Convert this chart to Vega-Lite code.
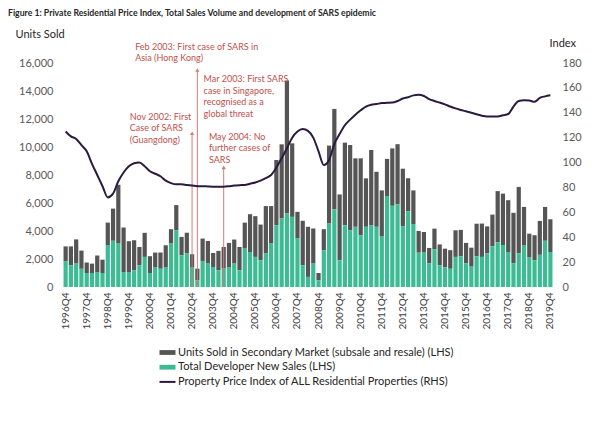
{
  "$schema": "https://vega.github.io/schema/vega-lite/v6.json",
  "width": 490,
  "height": 224,
  "autosize": {"type": "none"},
  "padding": {"left": 63, "top": 63, "right": 47, "bottom": 137},
  "background": "white",
  "config": {"font": "Lato", "view": {"stroke": null}},
  "title": {"text": "Figure 1: Private Residential Price Index, Total Sales Volume and development of SARS epidemic", "anchor": "start", "frame": "group", "dx": -55, "offset": 10, "fontSize": 8.7, "fontWeight": "bold", "color": "#262626", "font": "Lato"},
  "datasets": {
    "main": [
      {"q":"1996Q4","dev":1850,"sec":1050,"idx":125},
      {"q":"1997Q1","dev":1550,"sec":1350,"idx":121},
      {"q":"1997Q2","dev":1670,"sec":1730,"idx":119},
      {"q":"1997Q3","dev":1300,"sec":1300,"idx":114},
      {"q":"1997Q4","dev":1000,"sec":750,"idx":109},
      {"q":"1998Q1","dev":1000,"sec":670,"idx":99},
      {"q":"1998Q2","dev":1070,"sec":1180,"idx":90},
      {"q":"1998Q3","dev":1000,"sec":950,"idx":81},
      {"q":"1998Q4","dev":3000,"sec":1600,"idx":72},
      {"q":"1999Q1","dev":3300,"sec":2300,"idx":75},
      {"q":"1999Q2","dev":3100,"sec":4200,"idx":85},
      {"q":"1999Q3","dev":1070,"sec":3180,"idx":92},
      {"q":"1999Q4","dev":1070,"sec":2200,"idx":97},
      {"q":"2000Q1","dev":1200,"sec":2140,"idx":99.5},
      {"q":"2000Q2","dev":1550,"sec":1310,"idx":100},
      {"q":"2000Q3","dev":2150,"sec":1720,"idx":97},
      {"q":"2000Q4","dev":1000,"sec":1200,"idx":93},
      {"q":"2001Q1","dev":1430,"sec":1030,"idx":91},
      {"q":"2001Q2","dev":1300,"sec":1160,"idx":89},
      {"q":"2001Q3","dev":1430,"sec":1550,"idx":85.5},
      {"q":"2001Q4","dev":3100,"sec":1030,"idx":83.5},
      {"q":"2002Q1","dev":4060,"sec":1790,"idx":82.5},
      {"q":"2002Q2","dev":2270,"sec":1310,"idx":82.5},
      {"q":"2002Q3","dev":2390,"sec":1480,"idx":82},
      {"q":"2002Q4","dev":1430,"sec":910,"idx":81.5},
      {"q":"2003Q1","dev":480,"sec":830,"idx":81},
      {"q":"2003Q2","dev":1860,"sec":1600,"idx":81},
      {"q":"2003Q3","dev":1670,"sec":1620,"idx":80.8},
      {"q":"2003Q4","dev":1430,"sec":1000,"idx":80.6},
      {"q":"2004Q1","dev":1190,"sec":1390,"idx":80.5},
      {"q":"2004Q2","dev":1310,"sec":1550,"idx":80.6},
      {"q":"2004Q3","dev":1430,"sec":1720,"idx":81},
      {"q":"2004Q4","dev":1670,"sec":1720,"idx":81.5},
      {"q":"2005Q1","dev":1190,"sec":1670,"idx":81.8},
      {"q":"2005Q2","dev":2740,"sec":1860,"idx":82},
      {"q":"2005Q3","dev":2500,"sec":2700,"idx":83},
      {"q":"2005Q4","dev":2150,"sec":2910,"idx":84},
      {"q":"2006Q1","dev":1910,"sec":2550,"idx":85.5},
      {"q":"2006Q2","dev":2390,"sec":3390,"idx":87.5},
      {"q":"2006Q3","dev":3100,"sec":2680,"idx":90},
      {"q":"2006Q4","dev":4400,"sec":4670,"idx":96},
      {"q":"2007Q1","dev":4890,"sec":5300,"idx":103.5},
      {"q":"2007Q2","dev":5250,"sec":9500,"idx":111.5},
      {"q":"2007Q3","dev":5010,"sec":5250,"idx":120},
      {"q":"2007Q4","dev":3460,"sec":1910,"idx":125},
      {"q":"2008Q1","dev":1550,"sec":3180,"idx":127},
      {"q":"2008Q2","dev":720,"sec":3580,"idx":125.5},
      {"q":"2008Q3","dev":1670,"sec":2510,"idx":120},
      {"q":"2008Q4","dev":480,"sec":520,"idx":109},
      {"q":"2009Q1","dev":2630,"sec":1500,"idx":98},
      {"q":"2009Q2","dev":4530,"sec":5570,"idx":102},
      {"q":"2009Q3","dev":5540,"sec":7180,"idx":115},
      {"q":"2009Q4","dev":1910,"sec":4700,"idx":123},
      {"q":"2010Q1","dev":4410,"sec":5900,"idx":130},
      {"q":"2010Q2","dev":4060,"sec":6080,"idx":134.5},
      {"q":"2010Q3","dev":4300,"sec":4890,"idx":138.5},
      {"q":"2010Q4","dev":3700,"sec":5490,"idx":142},
      {"q":"2011Q1","dev":4300,"sec":3460,"idx":145},
      {"q":"2011Q2","dev":4420,"sec":5370,"idx":146.5},
      {"q":"2011Q3","dev":4300,"sec":3930,"idx":147},
      {"q":"2011Q4","dev":3600,"sec":3300,"idx":147.8},
      {"q":"2012Q1","dev":6500,"sec":2650,"idx":148},
      {"q":"2012Q2","dev":5800,"sec":4100,"idx":148.2},
      {"q":"2012Q3","dev":5900,"sec":4300,"idx":149.5},
      {"q":"2012Q4","dev":4350,"sec":4100,"idx":151.5},
      {"q":"2013Q1","dev":5400,"sec":2370,"idx":152.5},
      {"q":"2013Q2","dev":4500,"sec":2400,"idx":154},
      {"q":"2013Q3","dev":2450,"sec":1550,"idx":154.5},
      {"q":"2013Q4","dev":2500,"sec":1430,"idx":153.5},
      {"q":"2014Q1","dev":1700,"sec":1090,"idx":151},
      {"q":"2014Q2","dev":2700,"sec":1470,"idx":149.5},
      {"q":"2014Q3","dev":1550,"sec":1490,"idx":148.2},
      {"q":"2014Q4","dev":1400,"sec":1340,"idx":146.8},
      {"q":"2015Q1","dev":1300,"sec":1330,"idx":145},
      {"q":"2015Q2","dev":2150,"sec":1900,"idx":143.5},
      {"q":"2015Q3","dev":2200,"sec":1880,"idx":142.3},
      {"q":"2015Q4","dev":1700,"sec":1450,"idx":141.2},
      {"q":"2016Q1","dev":1450,"sec":1360,"idx":140},
      {"q":"2016Q2","dev":2200,"sec":2320,"idx":138.8},
      {"q":"2016Q3","dev":2150,"sec":2380,"idx":137.6},
      {"q":"2016Q4","dev":2400,"sec":1930,"idx":137},
      {"q":"2017Q1","dev":2900,"sec":2270,"idx":137},
      {"q":"2017Q2","dev":3200,"sec":3650,"idx":137},
      {"q":"2017Q3","dev":3000,"sec":3670,"idx":138},
      {"q":"2017Q4","dev":2500,"sec":3700,"idx":139},
      {"q":"2018Q1","dev":1700,"sec":3600,"idx":145},
      {"q":"2018Q2","dev":2400,"sec":4750,"idx":149.5},
      {"q":"2018Q3","dev":3000,"sec":2720,"idx":150},
      {"q":"2018Q4","dev":2100,"sec":1710,"idx":149.8},
      {"q":"2019Q1","dev":1900,"sec":1800,"idx":148.8},
      {"q":"2019Q2","dev":2300,"sec":2420,"idx":152},
      {"q":"2019Q3","dev":3300,"sec":2420,"idx":153.2},
      {"q":"2019Q4","dev":2500,"sec":2340,"idx":154}
    ],
    "notes": [
      {"q":"1999Q4","y":11950,"t":"Nov 2002: First\nCase of SARS\n(Guangdong)"},
      {"q":"2000Q1","y":16930,"t":"Feb 2003: First case of SARS in\nAsia (Hong Kong)"},
      {"q":"2003Q2","y":14620,"t":"Mar 2003: First SARS\ncase in Singapore,\nrecognised as a\nglobal threat"},
      {"q":"2003Q3","y":10520,"t":"May 2004: No\nfurther cases of\nSARS"}
    ],
    "arrows": [
      {"q":"2002Q4","top":10980},
      {"q":"2003Q1","top":15500},
      {"q":"2004Q2","top":8550}
    ]
  },
  "encoding": {
    "x": {
      "field": "q", "type": "ordinal",
      "scale": {
        "domain": ["1996Q4","1997Q1","1997Q2","1997Q3","1997Q4","1998Q1","1998Q2","1998Q3","1998Q4","1999Q1","1999Q2","1999Q3","1999Q4","2000Q1","2000Q2","2000Q3","2000Q4","2001Q1","2001Q2","2001Q3","2001Q4","2002Q1","2002Q2","2002Q3","2002Q4","2003Q1","2003Q2","2003Q3","2003Q4","2004Q1","2004Q2","2004Q3","2004Q4","2005Q1","2005Q2","2005Q3","2005Q4","2006Q1","2006Q2","2006Q3","2006Q4","2007Q1","2007Q2","2007Q3","2007Q4","2008Q1","2008Q2","2008Q3","2008Q4","2009Q1","2009Q2","2009Q3","2009Q4","2010Q1","2010Q2","2010Q3","2010Q4","2011Q1","2011Q2","2011Q3","2011Q4","2012Q1","2012Q2","2012Q3","2012Q4","2013Q1","2013Q2","2013Q3","2013Q4","2014Q1","2014Q2","2014Q3","2014Q4","2015Q1","2015Q2","2015Q3","2015Q4","2016Q1","2016Q2","2016Q3","2016Q4","2017Q1","2017Q2","2017Q3","2017Q4","2018Q1","2018Q2","2018Q3","2018Q4","2019Q1","2019Q2","2019Q3","2019Q4"],
        "paddingInner": 0.2, "paddingOuter": 0.1
      },
      "axis": {
        "values": ["1996Q4","1997Q4","1998Q4","1999Q4","2000Q4","2001Q4","2002Q4","2003Q4","2004Q4","2005Q4","2006Q4","2007Q4","2008Q4","2009Q4","2010Q4","2011Q4","2012Q4","2013Q4","2014Q4","2015Q4","2016Q4","2017Q4","2018Q4","2019Q4"],
        "labelAngle": -90, "labelAlign": "right", "labelBaseline": "middle", "labelPadding": 5,
        "labelFontSize": 10, "labelColor": "#404040", "labelFont": "Lato",
        "ticks": false, "domain": false, "title": null, "labelOverlap": false
      }
    }
  },
  "layer": [
    {
      "layer": [
        {
          "data": {"name": "main"},
          "transform": [{"fold": ["sec", "dev"], "as": ["series", "units"]}],
          "mark": {"type": "bar"},
          "encoding": {
            "y": {
              "field": "units", "type": "quantitative", "stack": "zero",
              "scale": {"domain": [0, 16000], "nice": false},
              "axis": {
                "title": "Units Sold", "titleAngle": 0, "titleAlign": "left", "titleBaseline": "middle",
                "titleX": -48, "titleY": -29, "titleFontWeight": "normal", "titleFontSize": 11, "titleColor": "#262626", "titleFont": "Lato",
                "values": [0,2000,4000,6000,8000,10000,12000,14000,16000], "format": ",d",
                "labelFontSize": 11, "labelColor": "#595959", "labelPadding": 10, "labelFont": "Lato", "labelOverlap": false,
                "grid": false, "domain": false, "ticks": false
              }
            },
            "color": {
              "field": "series", "type": "nominal",
              "scale": {"domain": ["sec", "dev", "idx"], "range": ["#555555", "#3dbb93", "#2b1a3f"]},
              "legend": {
                "orient": "none", "legendX": 99, "legendY": 284, "direction": "vertical", "title": null,
                "labelFontSize": 11, "labelColor": "#262626", "labelFont": "Lato", "labelLimit": 0, "symbolSize": 256, "rowPadding": 2.7, "labelOffset": 5,
                "labelExpr": "datum.label === 'sec' ? 'Units Sold in Secondary Market (subsale and resale) (LHS)' : datum.label === 'dev' ? 'Total Developer New Sales (LHS)' : 'Property Price Index of ALL Residential Properties (RHS)'",
                "encode": {
                  "symbols": {
                    "update": {
                      "shape": {"signal": "datum.value === 'idx' ? 'M-1,0H1' : 'M-1,-0.3H1V0.3H-1Z'"},
                      "fill": {"signal": "datum.value === 'idx' ? 'transparent' : scale('color', datum.value)"},
                      "stroke": {"signal": "scale('color', datum.value)"},
                      "strokeWidth": {"signal": "datum.value === 'idx' ? 2 : 0"},
                      "opacity": {"value": 1}
                    }
                  }
                }
              }
            },
            "order": {"field": "series", "sort": "ascending"}
          }
        },
        {
          "data": {"name": "arrows"},
          "mark": {"type": "rule", "color": "#d47a7a", "strokeWidth": 1},
          "encoding": {
            "y": {
              "field": "top", "type": "quantitative",
              "axis": {
                "title": "Units Sold", "titleAngle": 0, "titleAlign": "left", "titleBaseline": "middle",
                "titleX": -48, "titleY": -29, "titleFontWeight": "normal", "titleFontSize": 11, "titleColor": "#262626", "titleFont": "Lato",
                "values": [0,2000,4000,6000,8000,10000,12000,14000,16000], "format": ",d",
                "labelFontSize": 11, "labelColor": "#595959", "labelPadding": 10, "labelFont": "Lato", "labelOverlap": false,
                "grid": false, "domain": false, "ticks": false
              }
            },
            "y2": {"datum": 0}
          }
        },
        {
          "data": {"name": "arrows"},
          "mark": {"type": "point", "shape": "triangle-up", "filled": true, "size": 18, "color": "#d47a7a", "opacity": 1},
          "encoding": {
            "y": {
              "field": "top", "type": "quantitative",
              "axis": {
                "title": "Units Sold", "titleAngle": 0, "titleAlign": "left", "titleBaseline": "middle",
                "titleX": -48, "titleY": -29, "titleFontWeight": "normal", "titleFontSize": 11, "titleColor": "#262626", "titleFont": "Lato",
                "values": [0,2000,4000,6000,8000,10000,12000,14000,16000], "format": ",d",
                "labelFontSize": 11, "labelColor": "#595959", "labelPadding": 10, "labelFont": "Lato", "labelOverlap": false,
                "grid": false, "domain": false, "ticks": false
              }
            }
          }
        },
        {
          "data": {"name": "notes"},
          "mark": {"type": "text", "align": "left", "baseline": "alphabetic", "lineBreak": "\n", "fontSize": 9, "color": "#c0504d", "lineHeight": 11.5, "dx": 1, "font": "Lato"},
          "encoding": {
            "text": {"field": "t"},
            "y": {
              "field": "y", "type": "quantitative",
              "axis": {
                "title": "Units Sold", "titleAngle": 0, "titleAlign": "left", "titleBaseline": "middle",
                "titleX": -48, "titleY": -29, "titleFontWeight": "normal", "titleFontSize": 11, "titleColor": "#262626", "titleFont": "Lato",
                "values": [0,2000,4000,6000,8000,10000,12000,14000,16000], "format": ",d",
                "labelFontSize": 11, "labelColor": "#595959", "labelPadding": 10, "labelFont": "Lato", "labelOverlap": false,
                "grid": false, "domain": false, "ticks": false
              }
            }
          }
        }
      ]
    },
    {
      "data": {"name": "main"},
      "mark": {"type": "line", "interpolate": "monotone", "strokeWidth": 2},
      "encoding": {
        "y": {
          "field": "idx", "type": "quantitative",
          "scale": {"domain": [0, 180], "nice": false},
          "axis": {
            "orient": "right", "title": "Index", "titleAngle": 0, "titleAlign": "left", "titleBaseline": "middle",
            "titleX": -4, "titleY": -20, "titleFontWeight": "normal", "titleFontSize": 11, "titleColor": "#262626", "titleFont": "Lato",
            "values": [0,20,40,60,80,100,120,140,160,180],
            "labelFontSize": 11, "labelColor": "#595959", "labelPadding": 9, "labelFont": "Lato", "labelOverlap": false,
            "grid": false, "domain": false, "ticks": false
          }
        },
        "color": {"datum": "idx"}
      }
    }
  ],
  "resolve": {"scale": {"y": "independent"}}
}
